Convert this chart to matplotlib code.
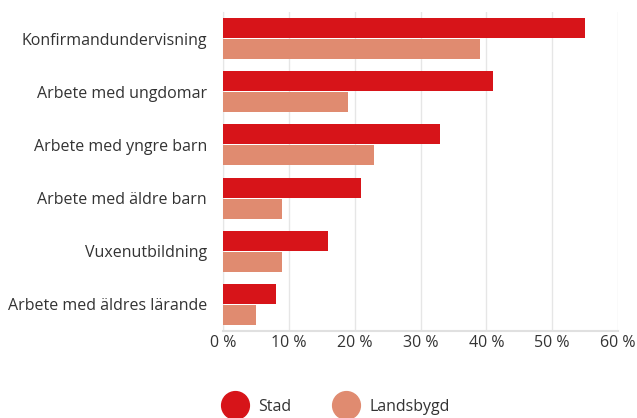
import matplotlib.pyplot as plt
import numpy as np
from matplotlib.lines import Line2D

# Data
categories = ["Konfirmandundervisning", "Arbete med ungdomar", "Arbete med yngre barn",
              "Arbete med äldre barn", "Vuxenutbildning", "Arbete med äldres lärande"]
stad = [55, 41, 33, 21, 16, 8]
landsbygd = [39, 19, 23, 9, 9, 5]
x_ticks = [0, 10, 20, 30, 40, 50, 60]

plt.rcParams['font.family'] = ['Open Sans', 'DejaVu Sans']
text_col = "#333333"
c_stad = "#d71419"
c_land = "#e08b70"
fs = 11.5

fig = plt.figure(figsize=(6.37, 4.18), dpi=100)
ax = fig.add_axes([223/637, 1 - 331/418, (618 - 223)/637, (331 - 12)/418])

y = np.arange(len(categories))
h = 20/53
off = 10.5/53
ax.barh(y - off, stad, height=h, color=c_stad, label="Stad", zorder=3)
ax.barh(y + off, landsbygd, height=h, color=c_land, label="Landsbygd", zorder=3)

ax.set_ylim(len(categories) - 0.5, -0.5)
ax.set_xlim(0, 60)
ax.set_yticks(y)
ax.set_yticklabels(categories, fontsize=fs, color=text_col)
ax.set_xticks(x_ticks)
ax.set_xticklabels([f"{t} %" for t in x_ticks], fontsize=fs, color=text_col)
ax.tick_params(axis='both', length=0)
ax.tick_params(axis='y', pad=11.5)
ax.tick_params(axis='x', pad=3)

ax.grid(axis='x', color="#e6e6e6", linewidth=1, zorder=0)
for s in ['top', 'right']:
    ax.spines[s].set_visible(False)
ax.spines['left'].set_color("#e6e6e6")
ax.spines['bottom'].set_color("#e0e0e0")
ax.spines['bottom'].set_linewidth(1.5)

handles = [Line2D([], [], marker='o', linestyle='', markersize=20, color=c_stad, label="Stad"),
           Line2D([], [], marker='o', linestyle='', markersize=20, color=c_land, label="Landsbygd")]
fig.legend(handles=handles, loc='center', bbox_to_anchor=(0.525, 1 - 407/418), ncol=2,
           frameon=False, fontsize=fs, labelcolor=text_col, handletextpad=0.5, columnspacing=2.4)

plt.savefig("out.png", dpi=100)
